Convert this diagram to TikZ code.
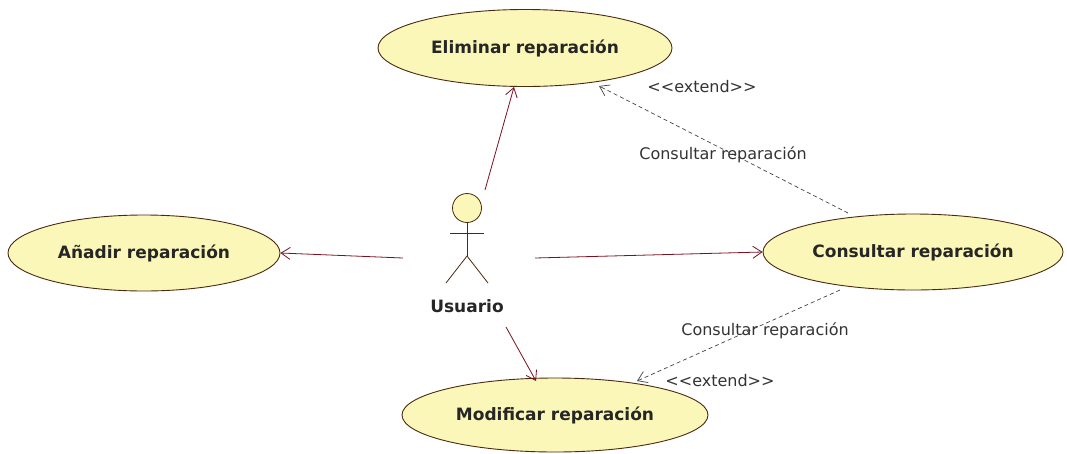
\documentclass[tikz,border=0pt]{standalone}
\usepackage{fontspec}
\setmainfont{DejaVu Sans}
\newfontfamily\lblfont{DejaVu Sans}
\usetikzlibrary{arrows.meta,shapes.geometric}
\definecolor{ucfill}{HTML}{FBF7B8}
\definecolor{ucline}{HTML}{4A2A10}
\definecolor{assoc}{HTML}{7A1020}
\definecolor{dep}{HTML}{404040}
\tikzset{
  usecase/.style={ellipse, draw=ucline, fill=ucfill, line width=0.9pt, inner sep=0pt,
    font=\bfseries\fontsize{17}{19}\selectfont, text=black!85},
  assocline/.style={draw=assoc, line width=0.8pt, -{Straight Barb[length=9pt,width=12pt]}},
  extline/.style={draw=dep, line width=0.7pt, dashed, dash pattern=on 4pt off 3pt, -{Straight Barb[length=9pt,width=12pt]}},
  lbl/.style={font=\lblfont\fontsize{16}{18}\selectfont, text=black!80, inner sep=1pt},
  actorpart/.style={draw=ucline, line width=0.8pt}
}
\begin{document}
\begin{tikzpicture}[x=1pt,y=-1pt]
\useasboundingbox (0,0) rectangle (1067,453);
\node[usecase, minimum width=294pt, minimum height=77pt] (elim) at (525,48) {Eliminar reparación};
\node[usecase, minimum width=272pt, minimum height=76pt] (anad) at (144,253) {Añadir reparación};
\node[usecase, minimum width=300pt, minimum height=76pt] (cons) at (913,252) {Consultar reparación};
\node[usecase, minimum width=306pt, minimum height=74pt] (modi) at (555,415) {Modificar reparación};
% actor
\node[circle, draw=ucline, fill=ucfill, line width=0.8pt, minimum size=29pt, inner sep=0pt] (head) at (467,208) {};
\coordinate (hip) at (467,256);
\coordinate (armL) at (450,233);
\coordinate (armR) at (484,233);
\coordinate (legL) at (446,283);
\coordinate (legR) at (488,283);
\draw[actorpart] (head.south) -- (hip);
\draw[actorpart] (armL) -- (armR);
\draw[actorpart] (legL) -- (hip) -- (legR);
\node[font=\bfseries\fontsize{17}{19}\selectfont, text=black!85] (user) at (467,306) {Usuario};
% association endpoints
\coordinate (aE) at (485,190);
\coordinate (aA) at (403,258);
\coordinate (aC) at (535,258);
\coordinate (aM) at (506,327);
\coordinate (eE) at (514,87);
\coordinate (eM) at (536,381);
\draw[assocline] (aE) -- (eE);
\draw[assocline] (aA) -- (anad.east);
\draw[assocline] (aC) -- (cons.west);
\draw[assocline] (aM) -- (eM);
% extend
\coordinate (x1s) at (848,213);
\coordinate (x1e) at (599,86);
\draw[extline] (x1s) -- (x1e);
\coordinate (x2s) at (840,290);
\coordinate (x2e) at (637,381);
\draw[extline] (x2s) -- (x2e);
\node[lbl] (ext1) at (702,87) {<<extend>>};
\node[lbl] (lab1) at (723,155) {Consultar reparación};
\node[lbl] (lab2) at (765,331) {Consultar reparación};
\node[lbl] (ext2) at (720,381) {<<extend>>};
\end{tikzpicture}
\end{document}
